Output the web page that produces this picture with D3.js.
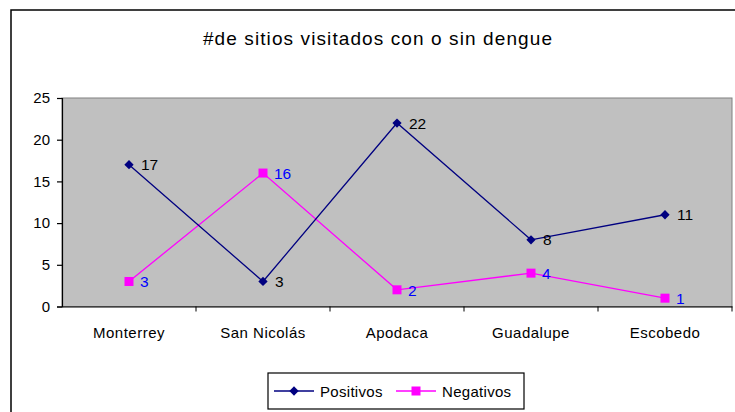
<!DOCTYPE html>
<html lang="es">
<head>
<meta charset="UTF-8">
<title>Sitios visitados</title>
<script src="https://cdnjs.cloudflare.com/ajax/libs/d3/7.8.5/d3.min.js"></script>
<style>
  body { margin: 0; background: #fff; }
  text { font-family: "Liberation Sans", Arial, sans-serif; }
</style>
</head>
<body>
<div id="chart"></div>
<script>
var categories = ["Monterrey", "San Nicolás", "Apodaca", "Guadalupe", "Escobedo"];
var positivos = [17, 3, 22, 8, 11];
var negativos = [3, 16, 2, 4, 1];
var yTicks = [0, 5, 10, 15, 20, 25];

var width = 735, height = 412;
var plot = {left: 62, top: 98, right: 732, bottom: 306.5};

var svg = d3.select("#chart").append("svg")
    .attr("width", width)
    .attr("height", height);

svg.append("rect").attr("width", width).attr("height", height).attr("fill", "#fff");

// outer chart frame
svg.append("rect")
    .attr("x", 11).attr("y", 10)
    .attr("width", 740).attr("height", 420)
    .attr("fill", "none").attr("stroke", "#000").attr("stroke-width", 1.5);

svg.append("text")
    .attr("x", 378).attr("y", 45)
    .attr("text-anchor", "middle")
    .attr("font-size", 19)
    .attr("letter-spacing", 1.1)
    .text("#de sitios visitados con o sin dengue");

var x = d3.scaleBand().domain(categories).range([plot.left, plot.right]);
var y = d3.scaleLinear().domain([0, 25]).range([plot.bottom, plot.top]);

svg.append("rect")
    .attr("x", plot.left).attr("y", plot.top)
    .attr("width", plot.right - plot.left).attr("height", plot.bottom - plot.top)
    .attr("fill", "#c0c0c0").attr("stroke", "#808080").attr("stroke-width", 1);

var yAxis = svg.append("g")
    .attr("transform", "translate(" + plot.left + ",0)")
    .call(d3.axisLeft(y).tickValues(yTicks).tickSize(5).tickPadding(7));
yAxis.selectAll("text").attr("font-size", 15).attr("fill", "#000");
yAxis.selectAll("line, path").attr("stroke", "#000").attr("stroke-width", 1.2);

var xAxis = svg.append("g")
    .attr("transform", "translate(0," + plot.bottom + ")")
    .call(d3.axisBottom(x).tickSize(0).tickPadding(21));
xAxis.select(".domain").attr("stroke", "#000").attr("stroke-width", 1.2);
xAxis.selectAll("text").attr("font-size", 15).attr("letter-spacing", 0.5).attr("fill", "#000");

// category dividers on x axis
xAxis.selectAll(".sep")
    .data(categories.slice(1).concat(["end"]))
    .enter().append("line")
    .attr("x1", function (d, i) { return plot.left + x.step() * (i + 1); })
    .attr("x2", function (d, i) { return plot.left + x.step() * (i + 1); })
    .attr("y1", 0).attr("y2", 5)
    .attr("stroke", "#000");

var cx = function (d, i) { return x(categories[i]) + x.bandwidth() / 2; };
var line = d3.line().x(cx).y(function (d) { return y(d); });

svg.append("path").datum(negativos)
    .attr("d", line).attr("fill", "none")
    .attr("stroke", "#ff00ff").attr("stroke-width", 1.3);
svg.append("path").datum(positivos)
    .attr("d", line).attr("fill", "none")
    .attr("stroke", "#000080").attr("stroke-width", 1.3);

svg.selectAll(".sq").data(negativos).enter().append("rect")
    .attr("x", function (d, i) { return cx(d, i) - 4.5; })
    .attr("y", function (d) { return y(d) - 4.5; })
    .attr("width", 9).attr("height", 9)
    .attr("fill", "#ff00ff");

var diamond = d3.symbol().type(d3.symbolDiamond2).size(55);
svg.selectAll(".dm").data(positivos).enter().append("path")
    .attr("d", diamond)
    .attr("transform", function (d, i) { return "translate(" + cx(d, i) + "," + y(d) + ")"; })
    .attr("fill", "#000080");

svg.selectAll(".lp").data(positivos).enter().append("text")
    .attr("x", function (d, i) { return cx(d, i) + 12; })
    .attr("y", function (d) { return y(d) + 5.5; })
    .attr("font-size", 15.5).attr("fill", "#000")
    .text(function (d) { return d; });

svg.selectAll(".ln").data(negativos).enter().append("text")
    .attr("x", function (d, i) { return cx(d, i) + 11; })
    .attr("y", function (d) { return y(d) + 6; })
    .attr("font-size", 15.5).attr("fill", "#0000ff")
    .text(function (d) { return d; });

// legend
var lg = svg.append("g").attr("transform", "translate(268,373)");
lg.append("rect").attr("width", 256).attr("height", 36)
    .attr("fill", "#fff").attr("stroke", "#000").attr("stroke-width", 1.2);
var items = [
    {name: "Positivos", color: "#000080", dx: 6},
    {name: "Negativos", color: "#ff00ff", dx: 128}
];
items.forEach(function (it, i) {
    var g = lg.append("g").attr("transform", "translate(" + it.dx + ",18)");
    g.append("line").attr("x1", 0).attr("x2", 40)
        .attr("stroke", it.color).attr("stroke-width", 1.3);
    if (i === 0) {
        g.append("path").attr("d", diamond).attr("transform", "translate(20,0)").attr("fill", it.color);
    } else {
        g.append("rect").attr("x", 15.5).attr("y", -4.5).attr("width", 9).attr("height", 9).attr("fill", it.color);
    }
    g.append("text").attr("x", 46).attr("y", 5.5)
        .attr("font-size", 15).attr("letter-spacing", 0.3)
        .text(it.name);
});
</script>
</body>
</html>
